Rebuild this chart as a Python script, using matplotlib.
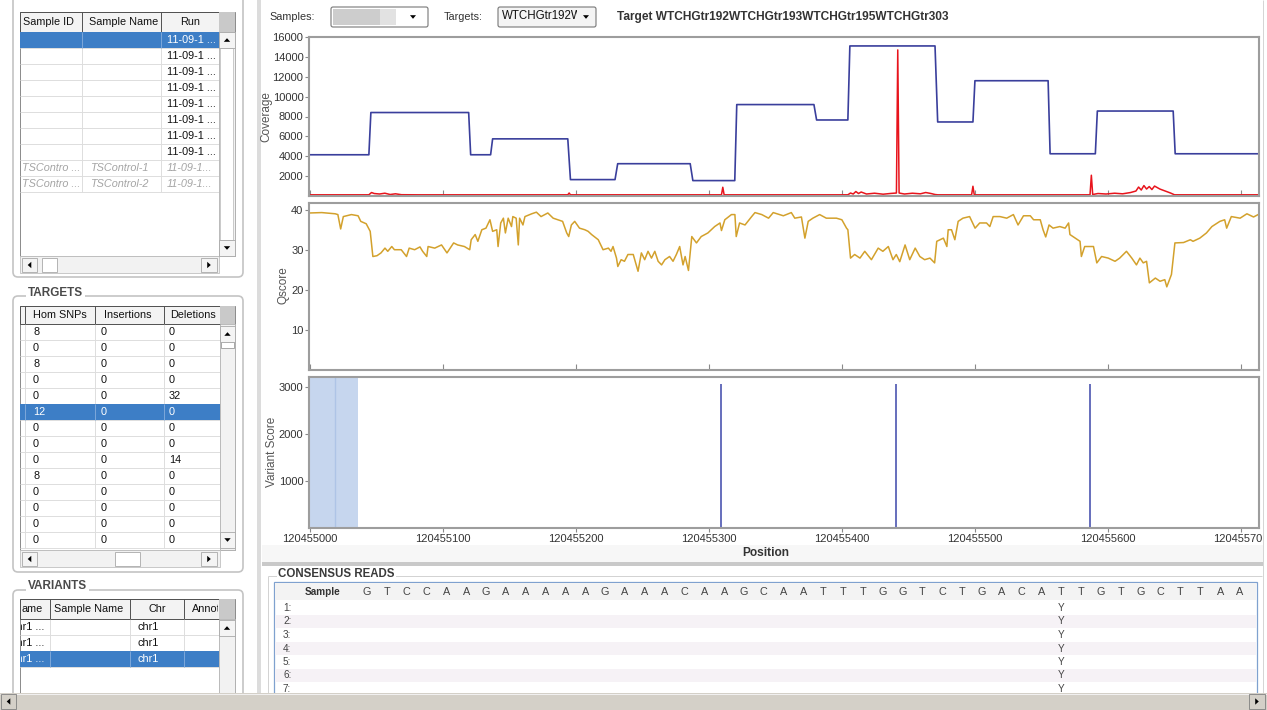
import matplotlib
matplotlib.use("Agg")
import matplotlib.pyplot as plt
import numpy as np
from matplotlib.patches import FancyBboxPatch, Polygon, Rectangle
from matplotlib.transforms import Bbox

W, H = 1267, 710
START = 120455000

plt.rcParams['font.family'] = ['Liberation Sans', 'DejaVu Sans']

# --- data (positions are offsets from START) ---
cov_pos = [0, 44.5, 46, 119.5, 121, 136, 137.5, 194, 196, 229.5, 231.5, 286, 288, 319.5, 321,
           379, 381, 404.5, 406, 470, 472, 498.5, 500, 555, 556.5, 590.5, 592, 649, 650.5, 714]
cov_val = [4150, 4150, 8400, 8400, 4150, 4150, 5750, 5750, 1650, 1650, 3250, 3250, 1550, 1550, 9200,
           9200, 7650, 7650, 15100, 15100, 7450, 7450, 11600, 11600, 4250, 4250, 8550, 8550, 4250, 4250]

err_pos = [0, 44.5, 46.5, 48.5, 52.5, 56.5, 60.5, 64.5, 69, 81, 194, 195, 196, 309.5, 310.5, 311.5,
           404.5, 406.5, 408.5, 410.5, 412.5, 414.5, 418.5, 424.5, 431, 437, 441, 442, 443, 447, 453,
           459, 463, 467, 470, 472, 497.5, 498.5, 499.5, 586.5, 587.5, 588.5, 592.5, 598.5, 605, 611,
           617, 621, 623, 625, 627, 629, 631, 633, 635, 639, 643, 647, 650, 714]
err_val = [120, 120, 350, 250, 200, 280, 150, 220, 130, 120, 120, 300, 120, 120, 880, 120, 120, 300,
           200, 450, 250, 400, 200, 280, 180, 260, 300, 14700, 300, 200, 280, 220, 350, 250, 150, 120,
           120, 980, 120, 120, 2090, 150, 250, 200, 280, 220, 350, 500, 900, 600, 1050, 700, 950, 650,
           1000, 700, 500, 300, 120, 120]

q_pos = [0, 9.1, 19.2, 21.2, 23.3, 25.3, 31.4, 36.4, 38.4, 42.5, 45.5, 47.5, 50.6, 53.6, 56.6,
         58.7, 61.7, 63.7, 68.8, 72.8, 74.8, 78.9, 82.9, 84.9, 88, 89, 94, 99.1, 103.2, 108.2,
         111.2, 116.3, 120.3, 121.4, 124.4, 126.4, 129.4, 132.5, 135.5, 137.5, 140.6, 141.6, 143.6,
         145.6, 147.1, 149.2, 151.7, 152.7, 155.2, 156.8, 157.8, 160.3, 161.8, 166.9, 170.4, 173.9,
         179, 183, 186.6, 190.1, 193.2, 194.7, 196.7, 199.2, 202.8, 206.8, 209.3, 211.9, 216.9,
         220.5, 224.5, 226.5, 228, 230.6, 231.6, 234.1, 236.6, 239.2, 243.2, 246.8, 249.3, 251.8,
         254.3, 256.9, 259.4, 261.9, 264.5, 267, 270.5, 273.1, 275.6, 278.1, 280.6, 282.2, 284.7,
         287.2, 290.7, 294.3, 299.3, 304.4, 308.4, 309.5, 312, 317, 319.6, 320.6, 323.1, 327.2,
         332.2, 334.7, 339.8, 344.9, 348.4, 356, 362, 364.6, 369.6, 372.2, 374.7, 378.2, 383.3,
         388.3, 395.9, 400, 403.5, 404.5, 406.5, 409.6, 413.6, 417.2, 422.2, 427.3, 430.8, 434.9,
         438.4, 440.9, 443.5, 447.5, 451, 455.1, 458.6, 462.2, 466.2, 469.7, 471.3, 476.3, 478.9,
         479.9, 482.4, 484.9, 487.4, 491, 496, 500.1, 503.6, 508.7, 511.2, 513.7, 518.8, 523.9,
         528.9, 532.4, 536.5, 541.6, 544.1, 549.1, 551.2, 553.2, 555.7, 558.7, 563.8, 567.8, 570.4,
         571.4, 575.4, 579, 580, 582.5, 589.1, 591.6, 595.2, 600.2, 605.3, 608.8, 613.9, 617.9,
         621.4, 624, 626.5, 629, 631.1, 635.6, 639.1, 642.7, 644.2, 647.7, 650.3, 656.8, 661.9,
         663.9, 669, 674, 678.1, 684.1, 687.7, 689.2, 692.7, 699.3, 704.4, 709.4, 714]
q_val = [39.2, 39.3, 39.0, 38.8, 35.2, 38.3, 38.8, 38.5, 37.1, 36.5, 34.6, 28.3, 28.5, 29.2, 30.4,
         29.6, 30.8, 30.0, 30.0, 28.3, 30.4, 30.0, 30.7, 29.6, 28.3, 30.8, 30.4, 31.2, 29.2, 31.7,
         31.2, 30.8, 30.0, 32.5, 33.8, 32.1, 35.0, 35.4, 37.5, 34.6, 35.0, 30.8, 36.7, 37.9, 34.2,
         37.9, 35.8, 38.3, 37.9, 31.2, 37.9, 36.2, 38.3, 39.0, 39.4, 38.3, 39.2, 37.9, 37.5, 37.1,
         34.2, 33.3, 36.2, 37.1, 35.4, 35.0, 34.6, 33.8, 32.5, 30.0, 30.4, 29.6, 30.8, 27.9, 25.8,
         27.5, 27.1, 28.8, 28.8, 24.6, 29.2, 27.5, 29.6, 27.9, 29.6, 27.1, 26.2, 27.5, 28.3, 27.1,
         28.8, 30.8, 26.2, 28.3, 24.8, 33.3, 31.7, 33.3, 34.2, 35.8, 36.7, 34.8, 37.5, 38.8, 38.8,
         33.3, 36.7, 36.2, 38.3, 39.3, 38.8, 37.9, 39.3, 38.5, 39.3, 37.9, 38.2, 32.9, 37.1, 37.9,
         38.8, 37.9, 37.9, 37.5, 35.4, 35.0, 27.9, 28.8, 27.9, 29.6, 27.5, 30.4, 29.6, 30.8, 27.5,
         28.8, 27.0, 31.2, 27.5, 30.4, 28.3, 27.5, 27.9, 26.7, 32.1, 32.9, 30.8, 35.0, 35.0, 32.5,
         37.1, 37.9, 38.3, 35.4, 36.7, 36.7, 35.8, 38.3, 38.3, 37.9, 38.8, 36.2, 38.5, 38.5, 37.5,
         37.5, 35.0, 33.2, 36.2, 35.4, 35.8, 35.4, 36.7, 33.8, 32.9, 32.1, 28.3, 30.8, 30.8, 26.7,
         28.3, 27.9, 27.1, 27.9, 29.6, 27.9, 26.2, 27.9, 26.7, 27.1, 21.7, 22.9, 22.1, 22.5, 20.7,
         23.8, 31.7, 31.8, 32.5, 32.1, 32.9, 34.2, 35.8, 37.1, 37.5, 35.4, 38.3, 37.9, 39.0, 38.2,
         39.0]

var_pos = [309, 441, 586.5]
var_score = [3060, 3060, 3060]
highlight = (0, 36)
highlight_mid = 19

sample_ids = ['', '', '', '', '', '', '', '', 'TSContro ...', 'TSContro ...']
sample_names = ['', '', '', '', '', '', '', '', 'TSControl-1', 'TSControl-2']
sample_runs = ['11-09-1 ...'] * 8 + ['11-09-1...', '11-09-1...']
sample_sel = 0

target_hom = [8, 0, 8, 0, 0, 12, 0, 0, 0, 8, 0, 0, 0, 0]
target_ins = [0, 0, 0, 0, 0, 0, 0, 0, 0, 0, 0, 0, 0, 0]
target_del = [0, 0, 0, 0, 32, 0, 0, 0, 14, 0, 0, 0, 0, 0]
target_sel = 5

variant_names = ['chr1 ...', 'chr1 ...', 'chr1 ...']
variant_chr = ['chr1', 'chr1', 'chr1']
variant_sel = 2

consensus_seq = 'GTCCAAGAAAAAGAAACAAGCAATTTGGTCTGACATTGTGCTTAA'
consensus_rows = ['1:', '2:', '3:', '4:', '5:', '6:', '7:']
call_base, call_col = 'Y', 35

SEL = '#3d7ec6'
fig = plt.figure(figsize=(W / 100, H / 100), dpi=100)
fig.patch.set_facecolor('white')

ui = fig.add_axes([0, 0, 1, 1])
ui.set_xlim(0, W)
ui.set_ylim(H, 0)
ui.axis('off')


def box(x0, y0, x1, y1, fc='none', ec='none', lw=0.7, z=2):
    ui.add_patch(Rectangle((x0, y0), x1 - x0, y1 - y0, facecolor=fc, edgecolor=ec, linewidth=lw, zorder=z))


def rbox(x0, y0, x1, y1, fc='none', ec='#c4c4c4', lw=1.2, r=5, z=1):
    ui.add_patch(FancyBboxPatch((x0, y0), x1 - x0, y1 - y0, boxstyle=f'round,pad=0,rounding_size={r}',
                                facecolor=fc, edgecolor=ec, linewidth=lw, zorder=z))


def hline(x0, x1, y, c, lw=0.7, z=3):
    ui.plot([x0, x1], [y, y], color=c, lw=lw, zorder=z, solid_capstyle='butt')


def vline(x, y0, y1, c, lw=0.7, z=3):
    ui.plot([x, x], [y0, y1], color=c, lw=lw, zorder=z, solid_capstyle='butt')


def text(x, y, s, size=7.8, color='#111111', ha='left', clip=None, z=6, **kw):
    t = ui.text(x, y, s, fontsize=size, color=color, ha=ha, va='center', zorder=z, **kw)
    if clip is not None:
        t.set_clip_box(Bbox.from_extents(clip[0], H - clip[3], clip[2], H - clip[1]))
        t.set_clip_on(True)
    return t


def arrow(cx, cy, d, s=3.2, c='black', z=7):
    pts = {'up': [(cx - s, cy + 1.8), (cx + s, cy + 1.8), (cx, cy - 1.8)],
           'down': [(cx - s, cy - 1.8), (cx + s, cy - 1.8), (cx, cy + 1.8)],
           'left': [(cx + 1.8, cy - s), (cx + 1.8, cy + s), (cx - 1.8, cy)],
           'right': [(cx - 1.8, cy - s), (cx - 1.8, cy + s), (cx + 1.8, cy)]}[d]
    ui.add_patch(Polygon(pts, closed=True, facecolor=c, edgecolor='none', zorder=z))


def button(x0, y0, x1, y1, d, fc='#f4f4f4', ec='#a8a8a8', z=5):
    box(x0, y0, x1, y1, fc=fc, ec=ec, lw=0.6, z=z)
    arrow((x0 + x1) / 2, (y0 + y1) / 2, d, z=z + 0.5)


def table(xs, y0, y1, row_h, n_rows, bottom, sb):
    box(xs[0], y0, sb, bottom, fc='white', ec='#8a8a8a', z=2)
    box(xs[0], y0, xs[-1], y1, fc='#f3f3f3', ec='#505050', z=3)
    for x in xs[1:-1]:
        vline(x, y0, y1, '#505050', z=4)
        vline(x, y1, y1 + row_h * n_rows, '#dddddd', z=3)
    box(xs[-1], y0, sb, y1, fc='#c9c9c9', z=3)
    for i in range(n_rows):
        hline(xs[0], xs[-1], y1 + row_h * (i + 1), '#dddddd', z=3)


def select(xs, y, row_h):
    box(xs[0], y, xs[-1], y + row_h, fc=SEL, z=4)
    for x in xs[1:-1]:
        vline(x, y, y + row_h, '#7ea8da', z=4.5)


def group(title, x0, y0, x1, y1, ty):
    rbox(x0, y0, x1, y1)
    text(x0 + 15, ty, title, size=8.5, color='#4a4a4a', weight='bold',
         bbox=dict(fc='white', ec='none', pad=1.5))


# ---------------- left panel: samples ----------------
rbox(13, -10, 243, 277)
xs = [20, 82, 161, 219]
table(xs, 12, 32, 16, 10, 256, 235)
text(23, 22, 'Sample ID')
text(89, 22, 'Sample Name')
text(190, 22, 'Run', ha='center')
select(xs, 32 + 16 * sample_sel, 16)
for i, (sid, name, run) in enumerate(zip(sample_ids, sample_names, sample_runs)):
    y = 32 + 16 * i + 8
    if i >= 8:
        kw = dict(color='#a5a5a5', style='italic')
    else:
        kw = dict(color='white' if i == sample_sel else '#111111')
    text(22, y, sid, clip=(20, 0, 81, H), **kw)
    text(90, y, name, clip=(82, 0, 160, H), **kw)
    text(167, y, run, clip=(161, 0, 218, H), **kw)
box(219, 32, 235, 256, fc='#f2f2f2', ec='#b0b0b0', lw=0.6, z=4)
box(220, 48, 233, 240, fc='white', ec='#c2c2c2', lw=0.6, z=4.5)
button(219, 32, 235, 48, 'up')
button(219, 240, 235, 256, 'down')
box(20, 256, 219, 273, fc='#f2f2f2', ec='#c0c0c0', lw=0.6, z=4)
button(22, 258, 37, 272, 'left')
box(42, 258, 57, 272, fc='white', ec='#a8a8a8', lw=0.6, z=5)
button(201, 258, 217, 272, 'right')

# ---------------- left panel: targets ----------------
group('TARGETS', 13, 296, 243, 572, 293)
xs = [20, 25, 95, 164, 220]
table(xs, 306, 324, 16, 14, 550, 235)
text(60, 315, 'Hom SNPs', ha='center')
text(128, 315, 'Insertions', ha='center')
text(170, 315, 'Deletions', clip=(164, 0, 219, H))
select(xs, 324 + 16 * target_sel, 16)
for i, (hv, iv, dv) in enumerate(zip(target_hom, target_ins, target_del)):
    y = 324 + 16 * i + 8
    c = 'white' if i == target_sel else '#111111'
    text(33, y, str(hv), color=c)
    text(101, y, str(iv), color=c)
    text(169, y, str(dv), color=c)
box(220, 324, 235, 550, fc='#f2f2f2', ec='#b0b0b0', lw=0.6, z=4)
box(221, 342, 234, 348, fc='white', ec='#9a9a9a', lw=0.6, z=4.5)
button(220, 326, 235, 342, 'up')
button(220, 532, 235, 548, 'down')
box(20, 550, 220, 567, fc='#f2f2f2', ec='#c0c0c0', lw=0.6, z=4)
button(22, 552, 37, 566, 'left')
box(115, 552, 140, 566, fc='white', ec='#a8a8a8', lw=0.6, z=5)
button(201, 552, 217, 566, 'right')

# ---------------- left panel: variants ----------------
group('VARIANTS', 13, 590, 243, 720, 586)
xs = [20, 50, 130, 184, 219]
table(xs, 599, 619, 16, 3, 700, 235)
text(22, 609, 'ame')
text(89, 609, 'Sample Name', ha='center')
text(157, 609, 'Chr', ha='center')
text(192, 609, 'Annotation', clip=(184, 0, 218, H))
select(xs, 619 + 16 * variant_sel, 16)
for i, (vn, ch) in enumerate(zip(variant_names, variant_chr)):
    y = 619 + 16 * i + 8
    c = 'white' if i == variant_sel else '#111111'
    text(11, y, vn, color=c, clip=(21, 0, 49, H))
    text(137, y, ch, color=c)
box(219, 619, 235, 700, fc='#f2f2f2', ec='#b0b0b0', lw=0.6, z=4)
button(219, 620, 235, 636, 'up')

# ---------------- separators / frame ----------------
box(257, 0, 261, 693, fc='#dcdcdc', z=1)
box(262, 562, 1263, 566, fc='#c9c9c9', z=1)
box(262, 545, 1263, 562, fc='#f7f7f7', z=0.5)
vline(1263, 0, 693, '#d4d4d4')

# ---------------- top controls ----------------
text(269, 17, 'Samples:', color='#333333')
rbox(331, 7, 428, 27, fc='white', ec='#777777', lw=0.8, r=2, z=3)
box(333, 9, 380, 25, fc='#cdcdcd', z=4)
box(380, 9, 396, 25, fc='#e2e2e2', z=4)
arrow(413, 17, 'down', s=3)
text(444, 17, 'Targets:', color='#333333')
rbox(498, 7, 596, 27, fc='#f4f4f4', ec='#777777', lw=0.8, r=2, z=3)
text(502, 16, 'WTCHGtr192W', size=8.3, clip=(500, 0, 577, H))
arrow(586, 17, 'down', s=3)
text(617, 17, 'Target WTCHGtr192WTCHGtr193WTCHGtr195WTCHGtr303', size=8.6,
     color='#333333', weight='bold')

# ---------------- consensus reads ----------------
hline(268, 1262, 576, '#d2d2d2')
vline(268, 576, 693, '#d2d2d2')
text(278, 574, 'CONSENSUS READS', size=8.3, color='#3a3a3a', weight='bold',
     family=['Liberation Sans Narrow', 'Liberation Sans', 'DejaVu Sans'],
     bbox=dict(fc='white', ec='none', pad=1))
box(274, 582, 1257, 705, fc='white', ec='#7fa1cf', lw=0.9, z=2)
box(275, 583, 1256, 600, fc='#f3f3f3', z=2.5)
text(323, 592, 'Sample', ha='center', size=7.2, color='#333333', weight='bold')
for j, base in enumerate(consensus_seq):
    text(367 + 19.84 * j, 592, base, ha='center', size=7.8, color='#444444')
for k, lab in enumerate(consensus_rows):
    y0 = 601 + 13.5 * k
    if k % 2 == 1:
        box(275, y0, 1256, y0 + 13.5, fc='#f6f2f6', z=2.5)
    text(283, y0 + 7, lab, size=7.2, color='#444444')
    text(367 + 19.84 * call_col, y0 + 7, call_base, ha='center', size=7.2, color='#444444')

# ---------------- bottom scrollbar ----------------
box(0, 693, W, 710, fc='#d4d0c8', ec='none', z=8)
hline(0, W, 693.5, '#f2f2f2', z=8.5)
button(1, 694, 16, 709, 'left', fc='#d4d0c8', ec='#808080', z=9)
button(1249, 694, 1265, 709, 'right', fc='#d4d0c8', ec='#808080', z=9)


# ---------------- plots ----------------
def px_axes(x0, y0, x1, y1):
    a = fig.add_axes([x0 / W, 1 - y1 / H, (x1 - x0) / W, (y1 - y0) / H])
    for s in a.spines.values():
        s.set_color('#9d9d9d')
        s.set_linewidth(1.5)
    a.set_xlim(START - 0.5, START + 713.5)
    a.set_xticks([START + d for d in range(0, 701, 100)])
    a.tick_params(axis='y', direction='out', length=3, width=0.8, color='#8a8a8a',
                  labelsize=8, labelcolor='#333333', pad=1)
    return a


ax_cov = px_axes(309, 37, 1259, 196)
ax_cov.plot(START + np.array(cov_pos), cov_val, color='#3a3f9c', lw=1.2)
ax_cov.plot(START + np.array(err_pos), err_val, color='#e8141c', lw=1.1)
ax_cov.set_ylim(0, 16000)
ax_cov.set_yticks(range(2000, 16001, 2000))
ax_cov.tick_params(axis='x', direction='in', length=4, color='#8a8a8a', labelbottom=False)

ax_q = px_axes(309, 203, 1259, 369.5)
ax_q.plot(START + np.array(q_pos), q_val, color='#d3a12c', lw=1.1)
ax_q.set_ylim(0, 41.7)
ax_q.set_yticks([10, 20, 30, 40])
ax_q.tick_params(axis='x', direction='in', length=4, color='#8a8a8a', labelbottom=False)

ax_v = px_axes(309, 377, 1259, 528)
ax_v.axvspan(START + highlight[0], START + highlight[1], color='#c6d6ee', lw=0, zorder=0)
ax_v.axvline(START + highlight_mid, color='#aec4e6', lw=1, zorder=0.5)
ax_v.vlines(START + np.array(var_pos), 0, var_score, color='#4b55b0', lw=1.2)
ax_v.set_ylim(0, 3210)
ax_v.set_yticks([1000, 2000, 3000])
ax_v.set_xticks([START + d for d in range(0, 701, 100)],
                [str(START + d) for d in range(0, 701, 100)])
ax_v.tick_params(axis='x', direction='out', length=3, color='#8a8a8a', labelsize=8,
                 labelcolor='#333333', pad=1)
for lab in ax_v.get_xticklabels():
    lab.set_clip_box(Bbox.from_extents(0, 0, 1262, H))
    lab.set_clip_on(True)

text(266, 117, 'Coverage', size=8.5, color='#555555', ha='center', rotation=90)
text(284, 285, 'Qscore', size=8.5, color='#555555', ha='center', rotation=90)
text(272, 452, 'Variant Score', size=8.5, color='#555555', ha='center', rotation=90)
text(766, 553, 'Position', size=8.6, color='#333333', ha='center', weight='bold')

fig.savefig('out.png', dpi=100)
